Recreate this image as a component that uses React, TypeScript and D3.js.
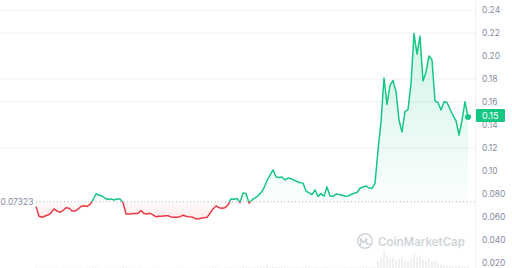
import React from "react";
import * as d3 from "d3";

const prices: number[] = [
  0.0690, 0.0607, 0.0598, 0.0609, 0.0617, 0.0636, 0.0670, 0.0651, 0.0642, 0.0656,
  0.0681, 0.0676, 0.0652, 0.0652, 0.0668, 0.0691, 0.0698, 0.0692, 0.0710, 0.0748,
  0.0802, 0.0789, 0.0783, 0.0763, 0.0752, 0.0758, 0.0748, 0.0757, 0.0757, 0.0726,
  0.0627, 0.0627, 0.0629, 0.0630, 0.0631, 0.0655, 0.0631, 0.0627, 0.0632, 0.0619,
  0.0602, 0.0607, 0.0606, 0.0610, 0.0611, 0.0601, 0.0597, 0.0598, 0.0603, 0.0615,
  0.0607, 0.0603, 0.0601, 0.0587, 0.0583, 0.0589, 0.0594, 0.0597, 0.0632, 0.0670,
  0.0696, 0.0681, 0.0676, 0.0681, 0.0704, 0.0757, 0.0754, 0.0761, 0.0726, 0.0809,
  0.0804, 0.0722, 0.0748, 0.0767, 0.0784, 0.0812, 0.0852, 0.0915, 0.0965, 0.1009,
  0.0950, 0.0943, 0.0948, 0.0922, 0.0939, 0.0933, 0.0921, 0.0909, 0.0898, 0.0896,
  0.0826, 0.0809, 0.0794, 0.0835, 0.0779, 0.0803, 0.0780, 0.0861, 0.0783, 0.0779,
  0.0800, 0.0795, 0.0791, 0.0780, 0.0783, 0.0796, 0.0807, 0.0813, 0.0850, 0.0861,
  0.0870, 0.0852, 0.0848, 0.0893, 0.1177, 0.1429, 0.1809, 0.1579, 0.1745, 0.1787,
  0.1691, 0.1443, 0.1339, 0.1516, 0.1533, 0.1757, 0.2196, 0.2017, 0.2174, 0.1783,
  0.1861, 0.2000, 0.1965, 0.1609, 0.1596, 0.1530, 0.1602, 0.1596, 0.1539, 0.1483,
  0.1439, 0.1313, 0.1443, 0.1603, 0.1470,
];

const volumes: number[] = [
  3, 2, 2, 2, 3, 2, 2, 3, 2, 2,
  2, 2, 3, 2, 2, 3, 2, 2, 3, 4,
  4, 3, 2, 2, 3, 2, 2, 2, 3, 5,
  4, 2, 2, 2, 2, 3, 2, 2, 2, 2,
  2, 2, 2, 2, 2, 2, 2, 2, 2, 2,
  2, 2, 2, 2, 2, 2, 2, 2, 3, 4,
  4, 3, 2, 2, 3, 4, 3, 3, 3, 5,
  4, 3, 3, 3, 3, 4, 6, 15, 8, 7,
  5, 4, 4, 4, 4, 3, 3, 3, 3, 3,
  5, 4, 3, 4, 3, 3, 3, 5, 3, 3,
  3, 3, 3, 3, 3, 3, 3, 3, 4, 4,
  4, 3, 3, 8, 40, 60, 100, 70, 55, 60,
  45, 50, 65, 40, 35, 50, 80, 60, 70, 45,
  40, 50, 35, 40, 25, 20, 15, 14, 12, 10,
  12, 14, 10, 9, 8,
];

const yTicks: number[] = [0.24, 0.22, 0.2, 0.18, 0.16, 0.14, 0.12, 0.1, 0.08, 0.06, 0.04, 0.02];
const yTickLabels: string[] = ["0.24", "0.22", "0.20", "0.18", "0.16", "0.14", "0.12", "0.10", "0.080", "0.060", "0.040", "0.020"];
const gridTicks: number[] = [0.24, 0.22, 0.18, 0.16, 0.12];
const baselineValue = 0.07323;
const baselineLabel = "0.07323";
const currentLabel = "0.15";

const W = 512;
const H = 268;
const GREEN = "#16c784";
const RED = "#ea3943";
const FONT = "Inter, 'Noto Sans', sans-serif";

export default function App() {
  const x = d3.scaleLinear().domain([0, prices.length - 1]).range([36, 468]);
  const y = d3.scaleLinear().domain([0.02, 0.24]).range([263, 10]);
  const vMax = d3.max(volumes) as number;
  const vh = d3.scaleLinear().domain([0, vMax]).range([0, 18]);
  const baseY = y(baselineValue);

  const line = d3
    .line<number>()
    .x((_, i) => x(i))
    .y((d) => y(d))
    .curve(d3.curveLinear);
  const area = d3
    .area<number>()
    .x((_, i) => x(i))
    .y0(baseY)
    .y1((d) => y(d));

  const last = prices[prices.length - 1];
  const lastX = x(prices.length - 1);
  const lastY = y(last);

  return (
    <svg width={W} height={H} style={{ position: "absolute", left: 0, top: 0, background: "#fff" }}>
      <defs>
        <clipPath id="above">
          <rect x={0} y={0} width={W} height={baseY} />
        </clipPath>
        <clipPath id="below">
          <rect x={0} y={baseY} width={W} height={H - baseY} />
        </clipPath>
        <linearGradient id="gGreen" x1="0" y1={y(0.24)} x2="0" y2={baseY} gradientUnits="userSpaceOnUse">
          <stop offset="0" stopColor={GREEN} stopOpacity={0.22} />
          <stop offset="1" stopColor={GREEN} stopOpacity={0.02} />
        </linearGradient>
        <linearGradient id="gRed" x1="0" y1={baseY} x2="0" y2={y(0.055)} gradientUnits="userSpaceOnUse">
          <stop offset="0" stopColor={RED} stopOpacity={0.02} />
          <stop offset="1" stopColor={RED} stopOpacity={0.12} />
        </linearGradient>
      </defs>

      {gridTicks.map((t) => (
        <line key={t} x1={0} x2={475} y1={y(t)} y2={y(t)} stroke="#f0f1f3" strokeWidth={1} />
      ))}
      <line x1={475.5} x2={475.5} y1={0} y2={H} stroke="#eef0f3" strokeWidth={1} />

      {volumes.map((v, i) => (
        <rect key={i} x={x(i) - 0.6} y={H - vh(v)} width={1.2} height={vh(v)} fill="#e3e6ea" />
      ))}

      <g opacity={0.9}>
        <circle cx={365} cy={241} r={7.2} fill="none" stroke="#cdd1d8" strokeWidth={1.6} />
        <path d="M360.5,245 L360.5,238.5 L363.5,243 L366.5,238.5 L366.5,243.5 Q367.5,245 369.5,243.5" fill="none" stroke="#cdd1d8" strokeWidth={1.5} strokeLinejoin="round" strokeLinecap="round" />
        <text x={378} y={245.5} fontFamily={FONT} fontSize={11.5} fontWeight={600} fill="#cdd1d8">
          CoinMarketCap
        </text>
      </g>

      <path d={area(prices) || ""} fill="url(#gGreen)" clipPath="url(#above)" />
      <path d={area(prices) || ""} fill="url(#gRed)" clipPath="url(#below)" />

      <line x1={36} x2={475} y1={baseY} y2={baseY} stroke="#aab0ba" strokeWidth={1} strokeDasharray="1 2.5" />

      <path d={line(prices) || ""} fill="none" stroke={GREEN} strokeWidth={1.5} strokeLinejoin="round" clipPath="url(#above)" />
      <path d={line(prices) || ""} fill="none" stroke={RED} strokeWidth={1.5} strokeLinejoin="round" clipPath="url(#below)" />

      <circle cx={lastX} cy={lastY} r={3} fill={GREEN} />

      {yTicks.map((t, i) => (
        <text key={t} x={482} y={y(t)} dy="0.35em" fontFamily={FONT} fontSize={8.5} fill="#858ca2">
          {yTickLabels[i]}
        </text>
      ))}

      <rect x={476} y={lastY - 8} width={29} height={13} fill={GREEN} rx={1} />
      <text x={482} y={lastY - 1.5} dy="0.35em" fontFamily={FONT} fontSize={9} fill="#fff">
        {currentLabel}
      </text>

      <rect x={0} y={baseY - 5.5} width={34} height={11} fill="#fff" />
      <text x={0.5} y={baseY} dy="0.35em" fontFamily={FONT} fontSize={8.5} fill="#858ca2">
        {baselineLabel}
      </text>
    </svg>
  );
}
